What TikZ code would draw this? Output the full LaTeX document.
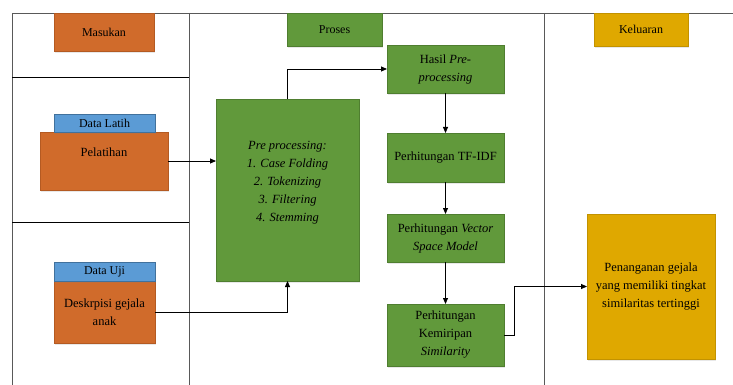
\documentclass[tikz,border=0pt]{standalone}
\usepackage{fontspec}
\setmainfont{Liberation Serif}
\newfontfamily\diagfont{Liberation Serif}
\usetikzlibrary{arrows.meta,shadows}
\definecolor{orangebox}{HTML}{D06B2B}
\definecolor{orangeline}{HTML}{B45A22}
\definecolor{greenbox}{HTML}{61993B}
\definecolor{greenline}{HTML}{4F7E30}
\definecolor{goldbox}{HTML}{DFA800}
\definecolor{goldline}{HTML}{C29200}
\definecolor{bluebox}{HTML}{5B9BD5}
\definecolor{blueline}{HTML}{41719C}
\tikzset{
  box/.style={draw, line width=0.6pt, align=center, inner sep=2pt, outer sep=0pt,
    font=\diagfont\fontsize{12.5}{18}\selectfont,
    drop shadow={opacity=0.18, shadow xshift=1pt, shadow yshift=-2pt}},
  inbox/.style={box, fill=orangebox, draw=orangeline},
  procbox/.style={box, fill=greenbox, draw=greenline},
  outbox/.style={box, fill=goldbox, draw=goldline},
  tagbox/.style={box, fill=bluebox, draw=blueline, font=\diagfont\fontsize{12}{14}\selectfont},
  headbox/.style={box, font=\diagfont\fontsize{12}{14}\selectfont},
  flow/.style={draw, line width=0.8pt, -{Triangle[length=6pt,width=5pt]}},
  lane/.style={draw=black!65, line width=0.9pt}
}
\begin{document}
\begin{tikzpicture}[x=1pt, y=-1pt]
    \useasboundingbox (0,0) rectangle (733,385);
    %% Swimlanes
    \draw[lane] (12,385) -- (12,13) -- (733,13);
    \draw[lane] (189,13) -- (189,385);
    \draw[lane] (544,13) -- (544,385);
    \draw[lane, draw=black] (12,77) -- (189,77);
    \draw[lane, draw=black] (12,222) -- (189,222);
    %% Lane headers
    \node[headbox, fill=orangebox, draw=orangeline, minimum width=100, minimum height=38] (masukan) at (104,32) {Masukan};
    \node[headbox, fill=greenbox, draw=greenline, minimum width=95, minimum height=33] (proses) at (334.5,29.5) {Proses};
    \node[headbox, fill=goldbox, draw=goldline, minimum width=94, minimum height=33] (keluaran) at (641,29.5) {Keluaran};
    %% Input
    \node[inbox, minimum width=128, minimum height=58] (pelatihan) at (104,161) {Pelatihan\\ \mbox{}};
    \node[tagbox, minimum width=101, minimum height=18] (latih) at (104.5,123) {Data Latih};
    \node[inbox, minimum width=101, minimum height=62] (deskripsi) at (104.5,312) {Deskrpisi gejala\\ anak};
    \node[tagbox, minimum width=101, minimum height=19] (uji) at (104.5,271.5) {Data Uji};
    %% Process
    \node[procbox, minimum width=143, minimum height=182, font=\diagfont\fontsize{12.5}{18}\selectfont\itshape] (pre) at (287.5,190)
        {Pre processing:\\ 1. Case Folding\\ 2. Tokenizing\\ 3. Filtering\\ 4. Stemming\\ \mbox{}};
    \node[procbox, minimum width=117, minimum height=48] (hasil) at (445.5,69) {Hasil \textit{Pre-}\\ \textit{processing}};
    \node[procbox, minimum width=117, minimum height=49] (tfidf) at (445.5,157.5) {Perhitungan TF-IDF};
    \node[procbox, minimum width=117, minimum height=48] (vsm) at (445.5,238) {Perhitungan \textit{Vector}\\ \textit{Space Model}};
    \node[procbox, minimum width=117, minimum height=62] (sim) at (445.5,335) {Perhitungan\\ Kemiripan\\ \textit{Similarity}};
    %% Output
    \node[outbox, minimum width=128, minimum height=145] (hasilakhir) at (651,286.5)
        {Penanganan gejala\\ yang memiliki tingkat\\ similaritas tertinggi};
    %% Flow
    \draw[flow] (pelatihan.east) -- (pre.west |- pelatihan.east);
    \draw[flow] (deskripsi.east) -| (pre.south);
    \draw[flow] (pre.north) |- (hasil.west);
    \draw[flow] (hasil) -- (tfidf);
    \draw[flow] (tfidf) -- (vsm);
    \draw[flow] (vsm) -- (sim);
    \draw[flow] (sim.east) -- ++(10,0) |- (hasilakhir.west);
\end{tikzpicture}
\end{document}
